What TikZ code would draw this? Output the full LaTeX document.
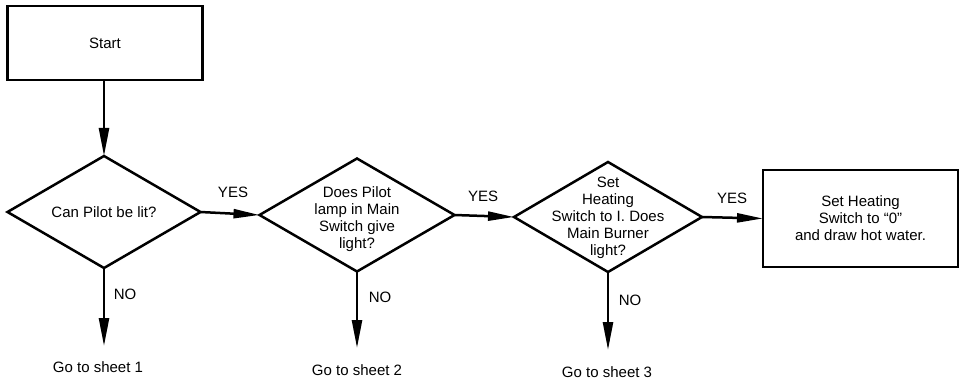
\documentclass[tikz,border=0pt]{standalone}
\usepackage{fontspec}
\setmainfont{Liberation Sans}
\usetikzlibrary{shapes.geometric,arrows.meta}
\tikzset{
  every picture/.style={line width=2.5pt},
  boxnode/.style={draw, rectangle, inner sep=0pt, outer sep=0pt},
  dianode/.style={draw, diamond, inner sep=0pt, outer sep=0pt},
  txt/.style={font=\fontsize{15}{17}\selectfont, align=center, inner sep=0pt},
  flow/.style={-{Triangle[length=28pt,width=10pt]}, line width=2.5pt},
  yesarrow/.style={-{Triangle[length=26pt,width=9pt]}, line width=2.5pt}
}
\begin{document}
\begin{tikzpicture}[x=1pt,y=-1pt]
\useasboundingbox (0,0) rectangle (960,382);
\fill[white] (0,0) rectangle (960,382);

\node[boxnode, minimum width=195pt, minimum height=74pt] (start) at (105,43) {};
\node[txt] (starttxt) at (start) {Start};

\node[dianode, minimum width=193pt, minimum height=112pt] (d1) at (104,212) {};
\node[txt] (d1txt) at (d1) {Can Pilot be lit?};

\node[dianode, minimum width=195pt, minimum height=113pt] (d2) at (357,215) {};
\node[txt] (d2txt) at ([yshift=-4pt]d2.center) {Does Pilot\\lamp in Main\\Switch give\\light?};

\node[dianode, minimum width=188pt, minimum height=110pt] (d3) at (608,217) {};
\node[txt] (d3txt) at ([yshift=-1pt]d3.center) {Set\\Heating\\Switch to I. Does\\Main Burner\\light?};

\node[boxnode, minimum width=195pt, minimum height=97pt] (fin) at (860.5,218.5) {};
\node[txt] (fintxt) at (fin) {Set Heating\\Switch to ``0''\\and draw hot water.};

\node[txt] (g1) at (98,367) {Go to sheet 1};
\node[txt] (g2) at (357,370) {Go to sheet 2};
\node[txt] (g3) at (607,372) {Go to sheet 3};

\coordinate (e1) at (104,346);
\coordinate (e2) at (357,348);
\coordinate (e3) at (608,350);

\draw[flow] (start.south -| d1.north) -- (d1.north);
\draw[yesarrow] (d1.east) -- (d2.west);
\draw[yesarrow] (d2.east) -- (d3.west);
\draw[yesarrow] (d3.east) -- (fin.west);
\draw[flow] (d1.south) -- (e1);
\draw[flow] (d2.south) -- (e2);
\draw[flow] (d3.south) -- (e3);

\node[txt] (yes1) at (233,192) {YES};
\node[txt] (yes2) at (483,196) {YES};
\node[txt] (yes3) at (732,198) {YES};
\node[txt] (no1) at (125,294) {NO};
\node[txt] (no2) at (380,297) {NO};
\node[txt] (no3) at (630,300) {NO};
\end{tikzpicture}
\end{document}
